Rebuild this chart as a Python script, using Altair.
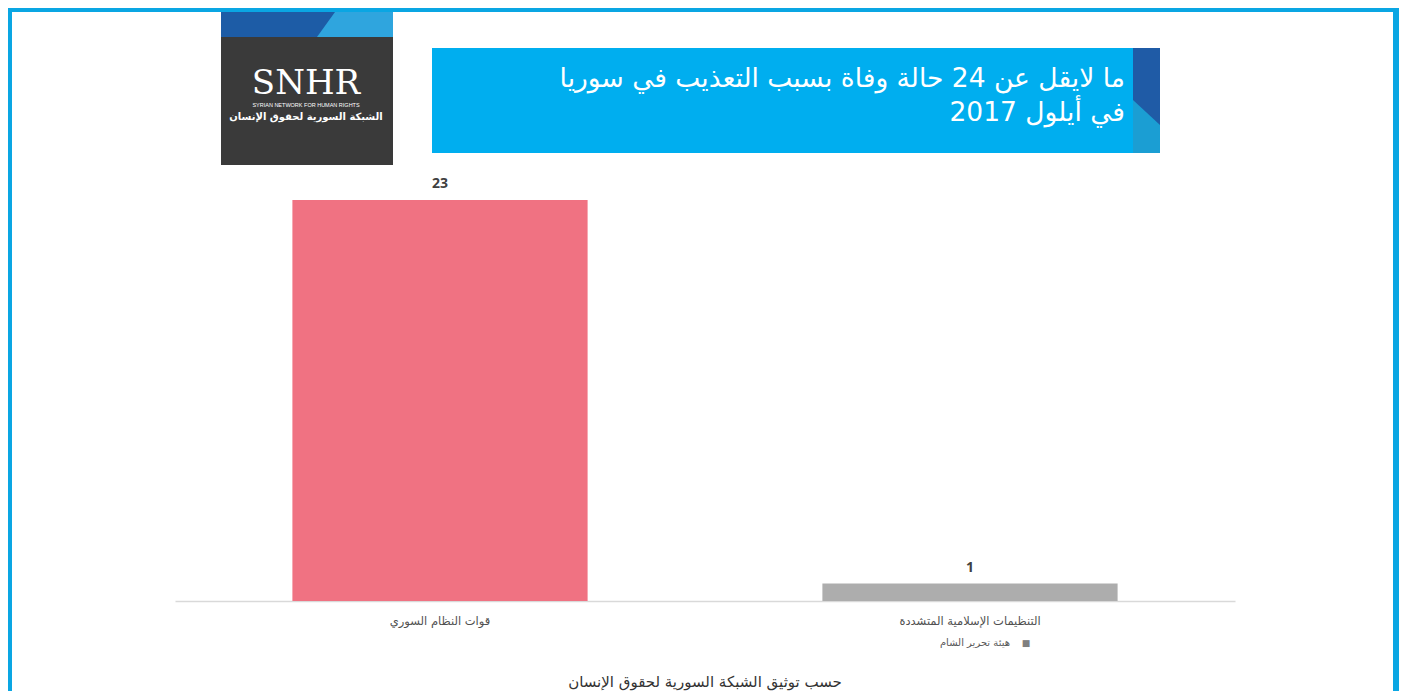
import altair as alt
import pandas as pd

# ---- data ----
categories = ["قوات النظام السوري", "التنظيمات الإسلامية المتشددة"]
values = [23, 1]
bar_colors = ["#F07282", "#ADADAD"]
sublabels = ["", "هيئة تحرير الشام"]

title_line1 = "ما لايقل عن 24 حالة وفاة بسبب التعذيب في سوريا"
title_line2 = "في أيلول 2017"
footer = "حسب توثيق الشبكة السورية لحقوق الإنسان"
logo_main = "SNHR"
logo_en = "SYRIAN NETWORK FOR HUMAN RIGHTS"
logo_ar = "الشبكة السورية لحقوق الإنسان"

df = pd.DataFrame({"cat": categories, "val": values, "color": bar_colors, "sub": sublabels})

W, H = 1060, 436
PL, PT = 167, 157  # plot origin at page (175,165)
TOTAL_W, TOTAL_H = 1391, 683


def px(X):
    return X - 175


def py(Y):
    return Y - 165


one = alt.Data(values=[{"k": 0}])


def rect(x1, x2, y1, y2, color):
    return alt.Chart(one).mark_rect(color=color, strokeWidth=0).encode(
        x=alt.value(px(x1)), x2=alt.value(px(x2)), y=alt.value(py(y1)), y2=alt.value(py(y2))
    )


def poly(cx, cy, side, path, color):
    return alt.Chart(one).mark_point(
        shape=path, filled=True, color=color, opacity=1, strokeWidth=0, size=side * side
    ).encode(x=alt.value(px(cx)), y=alt.value(py(cy)))


def text(X, Y, s, size, color, font="DejaVu Sans", weight="normal", align="center",
         baseline="middle"):
    return alt.Chart(alt.Data(values=[{"t": s}])).mark_text(
        fontSize=size, color=color, font=font, fontWeight=weight, align=align, baseline=baseline
    ).encode(x=alt.value(px(X)), y=alt.value(py(Y)), text="t:N")


border_c = "#0AA6E3"
deco = [
    rect(8, 12, 8, 699, border_c),
    rect(8, 1399, 8, 12, border_c),
    rect(1393, 1399, 8, 699, border_c),
    # logo
    rect(221, 393, 12, 165, "#3A3A3A"),
    rect(221, 393, 12, 37, "#1D5CA6"),
    poly(355, 24.5, 76, "M-0.526,-0.329L1,-0.329L1,0.329L-1,0.329Z", "#2FA5DE"),
    text(306, 94, logo_main, 34, "white", font="DejaVu Serif", baseline="alphabetic"),
    text(306, 104.5, logo_en, 5.5, "white", font="Liberation Sans"),
    text(306, 117, logo_ar, 10, "white", weight="bold"),
    # title box
    rect(432, 1160, 48, 153, "#00AEEF"),
    rect(1133, 1160, 48, 153, "#1B9ED3"),
    rect(1133, 1160, 48, 100, "#1F5BA6"),
    poly(1146.5, 112.5, 27, "M-1,-0.926L1,-0.926L1,0.926Z", "#1F5BA6"),
    text(1125, 79, title_line1, 26.5, "white", align="right"),
    text(1125, 113, title_line2, 26.5, "white", align="right"),
    # footer
    text(705, 682, footer, 15, "#333333"),
]

xscale = alt.Scale(domain=categories, paddingInner=0.443, paddingOuter=0.2215)
yscale = alt.Scale(domain=[0, 25], nice=False)

base = alt.Chart(df)
bars = base.mark_bar().encode(
    x=alt.X("cat:N", scale=xscale, sort=categories,
            axis=alt.Axis(title=None, labelAngle=0, ticks=False, domainColor="#D9D9D9",
                          domainWidth=1.5, labelFont="DejaVu Sans", labelFontSize=11.5,
                          labelColor="#505050", labelPadding=14)),
    y=alt.Y("val:Q", scale=yscale, axis=None),
    color=alt.Color("color:N", scale=None),
)
labels = base.mark_text(dy=-16, fontSize=14, fontWeight="bold", font="Open Sans",
                        color="#404040").encode(
    x=alt.X("cat:N", scale=xscale, sort=categories),
    y=alt.Y("val:Q", scale=yscale),
    text="val:Q",
)
subs = base.transform_filter("datum.sub != ''").mark_text(
    fontSize=10, font="DejaVu Sans", color="#595959", align="right", dx=40
).encode(
    x=alt.X("cat:N", scale=xscale, sort=categories),
    y=alt.value(py(643)),
    text="sub:N",
)
squares = base.transform_filter("datum.sub != ''").mark_text(
    fontSize=9, font="DejaVu Sans", color="#7F7F7F", align="center", dx=56, text="■"
).encode(
    x=alt.X("cat:N", scale=xscale, sort=categories),
    y=alt.value(py(643)),
)

chart = alt.layer(*deco, bars, labels, subs, squares).properties(
    width=W, height=H,
    autosize=alt.AutoSizeParams(type="none"),
    padding={"left": PL, "top": PT, "right": TOTAL_W - PL - W, "bottom": TOTAL_H - PT - H},
    background="white",
).configure_view(stroke=None)

chart.save("out.html", embed_options={"renderer": "svg", "actions": False})
